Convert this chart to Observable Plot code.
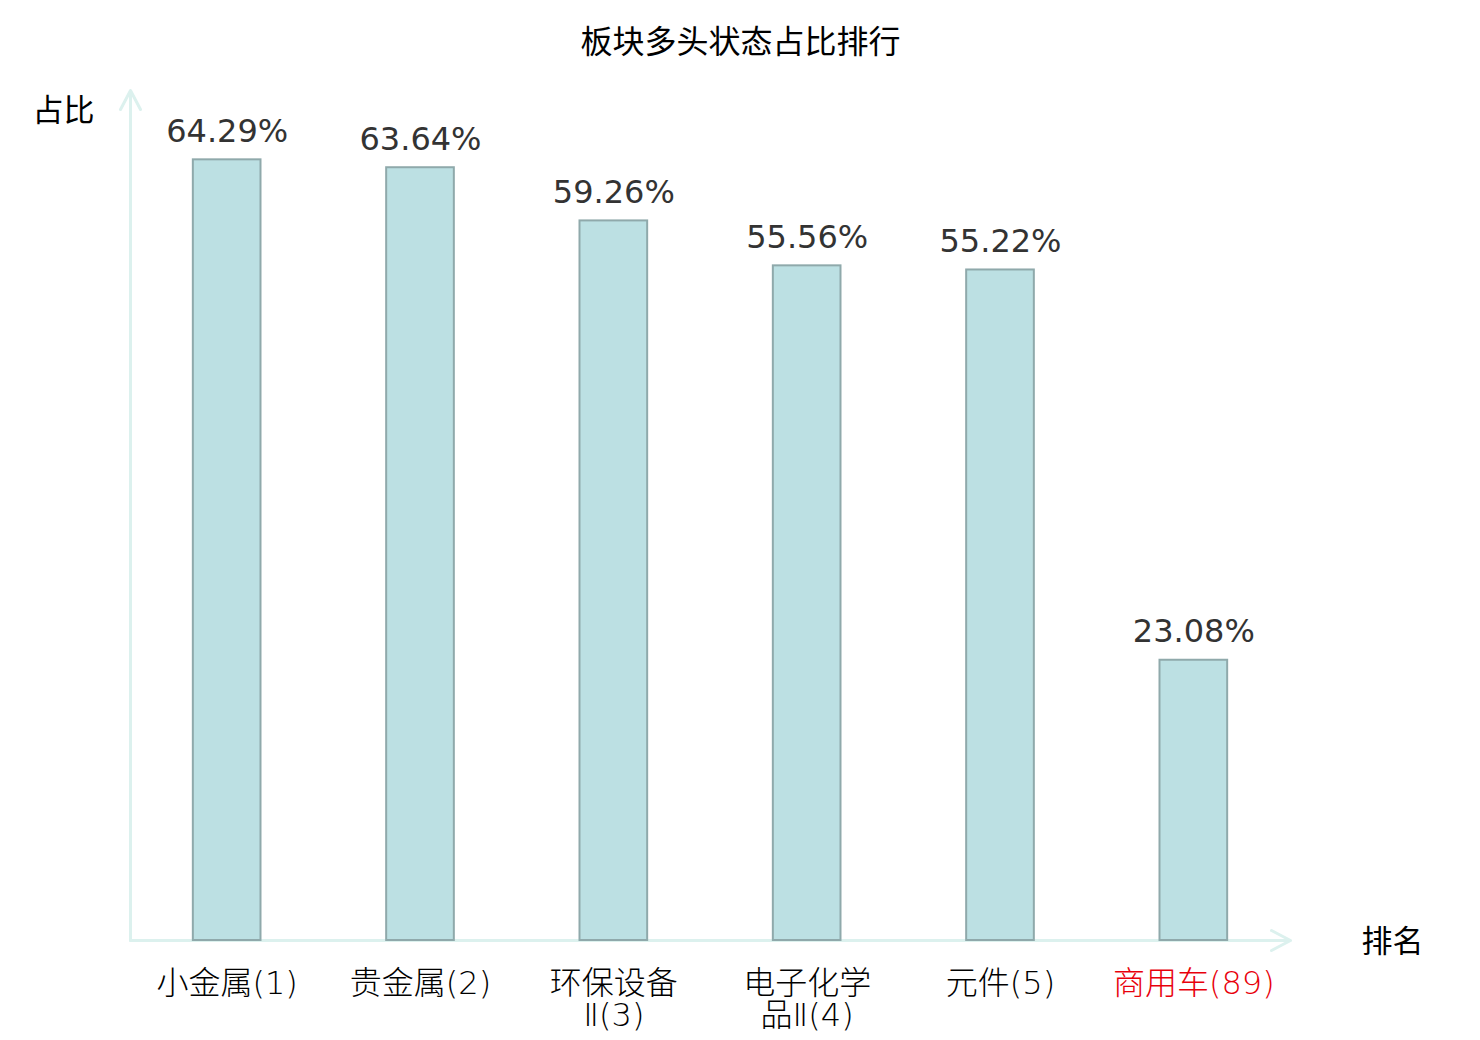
<!DOCTYPE html>
<html>
<head>
<meta charset="utf-8">
<script src="https://cdn.jsdelivr.net/npm/d3@7"></script>
<script src="https://cdn.jsdelivr.net/npm/@observablehq/plot@0.6"></script>
<style>
  html, body { margin: 0; padding: 0; background: #fff; }
  #chart svg { display: block; }
</style>
</head>
<body>
<div id="chart"></div>
<script>
const title = "板块多头状态占比排行";
const yLabel = "占比";
const xLabel = "排名";
const categories = ["小金属(1)", "贵金属(2)", "环保设备Ⅱ(3)", "电子化学品Ⅱ(4)", "元件(5)", "商用车(89)"];
const tickLabels = ["小金属(1)", "贵金属(2)", "环保设备\nⅡ(3)", "电子化学\n品Ⅱ(4)", "元件(5)", "商用车(89)"];
const values = [64.29, 63.64, 59.26, 55.56, 55.22, 23.08];
const highlighted = ["商用车(89)"];

const data = categories.map((c, i) => ({name: c, value: values[i]}));
const labelOf = new Map(categories.map((c, i) => [c, tickLabels[i]]));

const cjk = "'Noto Sans CJK SC', 'Noto Sans', sans-serif";
const mixed = "'DejaVu Sans', 'Noto Sans CJK SC', sans-serif";
const axisColor = "#dcf1ee";

const arrowShape = {
  draw(ctx, l) {
    ctx.moveTo(0, 0);
    ctx.lineTo(0, -l);
    ctx.moveTo(-10, 19 - l);
    ctx.lineTo(0, -l);
    ctx.lineTo(10, 19 - l);
  }
};

const plot = Plot.plot({
  width: 1480,
  height: 1040,
  marginLeft: 130,
  marginRight: 190,
  marginTop: 90,
  marginBottom: 100,
  style: {background: "#fff", overflow: "visible"},
  x: {domain: categories, paddingInner: 0.65, paddingOuter: 0.325, round: false},
  y: {domain: [0, 70], axis: null},
  marks: [
    Plot.vector([0], {frameAnchor: "bottom-left", rotate: 0, length: 850, anchor: "start",
      shape: arrowShape, stroke: axisColor, strokeWidth: 3}),
    Plot.vector([0], {frameAnchor: "bottom-left", rotate: 90, length: 1160, anchor: "start",
      shape: arrowShape, stroke: axisColor, strokeWidth: 3}),
    Plot.barY(data, {x: "name", y: "value", fill: "#bce0e3", stroke: "#8fa9ab", strokeWidth: 2}),
    Plot.text(data, {x: "name", y: "value", text: d => d.value.toFixed(2) + "%",
      lineAnchor: "bottom", dy: -18, fontSize: 32, fill: "#333",
      fontFamily: "'DejaVu Sans', sans-serif"}),
    Plot.axisX({ticks: categories.filter(c => !highlighted.includes(c)), tickSize: 0, tickPadding: 30,
      tickFormat: c => labelOf.get(c), fontSize: 32, lineHeight: 1.02, fill: "#000",
      fontFamily: mixed, fontWeight: 200, label: null}),
    Plot.axisX({ticks: highlighted, tickSize: 0, tickPadding: 30,
      tickFormat: c => labelOf.get(c), fontSize: 32, lineHeight: 1.02, fill: "#e8000b",
      fontFamily: mixed, fontWeight: 200, label: null}),
    Plot.text([title], {frameAnchor: "top", textAnchor: "middle", lineAnchor: "middle",
      dx: 30, dy: -48, fontSize: 32, fill: "#000", fontFamily: cjk}),
    Plot.text([yLabel], {frameAnchor: "top-left", textAnchor: "middle", lineAnchor: "middle",
      dx: -67, dy: 21, fontSize: 31, fill: "#000", fontFamily: cjk}),
    Plot.text([xLabel], {frameAnchor: "bottom-right", textAnchor: "middle", lineAnchor: "middle",
      dx: 102, dy: 2, fontSize: 31, fill: "#000", fontFamily: cjk})
  ]
});
document.getElementById("chart").appendChild(plot);
</script>
</body>
</html>
